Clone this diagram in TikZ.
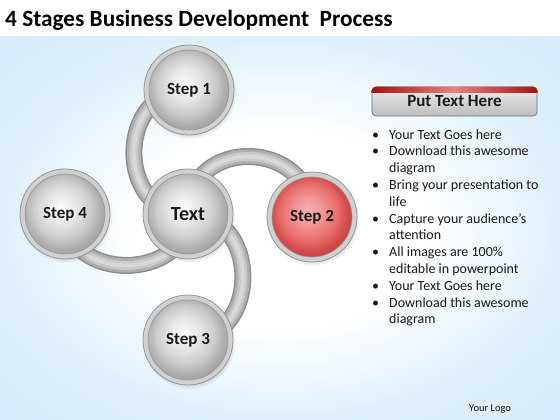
\documentclass[tikz,border=0pt]{standalone}
\usepackage{fontspec}
\setmainfont{Carlito}
\usetikzlibrary{shadows}
\definecolor{bgblue}{HTML}{DFF0FA}
\definecolor{bgblueB}{HTML}{D6EBF8}
\definecolor{tubeEdge}{HTML}{8E8E8E}
\definecolor{tubeMid}{HTML}{AFAFAF}
\definecolor{tubeLight}{HTML}{C8C8C8}
\definecolor{tubeHi}{HTML}{D8D8D8}
\definecolor{ringFill}{HTML}{D0D0D0}
\definecolor{ringEdge}{HTML}{969696}
\definecolor{textDark}{HTML}{1A1A1A}
\definecolor{hdrRed}{HTML}{9E1414}
\definecolor{hdrPink}{HTML}{EE7E7E}
\definecolor{rA}{HTML}{F7B2B2}
\definecolor{rB}{HTML}{F29494}
\definecolor{rC}{HTML}{E86C6C}
\definecolor{rD}{HTML}{D44C4C}
\definecolor{rE}{HTML}{C64040}
\pgfdeclareradialshading{graysphere}{\pgfpoint{-2.5bp}{4bp}}{%
  color(0bp)=(white!98!black); color(8bp)=(white!91!black);
  color(16bp)=(white!80!black); color(21bp)=(white!69!black);
  color(25bp)=(white!63!black); color(50bp)=(white!63!black)}
\pgfdeclareradialshading{redsphere}{\pgfpoint{-2.5bp}{4bp}}{%
  color(0bp)=(rA); color(8bp)=(rB);
  color(16bp)=(rC); color(21bp)=(rD);
  color(25bp)=(rE); color(50bp)=(rE)}
\pgfdeclareradialshading{bgshade}{\pgfpoint{0bp}{0bp}}{%
  color(0bp)=(white); color(13bp)=(white);
  color(25bp)=(bgblue); color(36bp)=(bgblueB); color(50bp)=(bgblueB)}
\pgfdeclarelayer{bg}
\pgfdeclarelayer{tubes}
\pgfsetlayers{bg,tubes,main}
\tikzset{
  stepball/.style={circle, minimum size=90pt, inner sep=0pt, draw=ringEdge,
    line width=0.8pt, fill=ringFill, text=textDark,
    font=\bfseries\fontsize{17}{17}\selectfont,
    circular drop shadow={shadow xshift=1pt, shadow yshift=-2.5pt, opacity=0.35, shadow scale=1.03},
    path picture={\shade[shading=#1] (path picture bounding box.center) circle (40pt);
      \draw[ringEdge, line width=0.6pt] (path picture bounding box.center) circle (40pt);}},
  tube/.style={draw=tubeEdge, line width=17pt,
    postaction={draw=tubeMid, line width=14pt},
    postaction={draw=tubeLight, line width=9pt},
    postaction={draw=tubeHi, line width=4pt}},
  hdrbox/.style={rectangle, rounded corners=4pt, minimum width=165pt, minimum height=29pt,
    top color=white!93!black, bottom color=white!74!black, draw=white!42!black,
    line width=0.6pt, text=textDark, font=\bfseries\fontsize{17}{17}\selectfont},
  plain/.style={inner sep=0pt, text=textDark}
}
\begin{document}
\begin{tikzpicture}[x=1pt,y=1pt]
\useasboundingbox (0,0) rectangle (560,420);
\begin{pgfonlayer}{bg}
  \fill[white] (0,0) rectangle (560,420);
  \shade[shading=bgshade] (0,0) rectangle (560,383);
\end{pgfonlayer}
% circles
\node[stepball=graysphere] (s1) at (189,330) {Step 1};
\node[stepball=graysphere, font=\bfseries\fontsize{20}{20}\selectfont] (txt) at (188,206) {Text};
\node[stepball=redsphere] (s2) at (312,203) {Step 2};
\node[stepball=graysphere] (s3) at (188,80) {Step 3};
\node[stepball=graysphere] (s4) at (65,206) {Step 4};
% tubes
\begin{pgfonlayer}{tubes}
  \draw[tube] (s1.center) to[out=180,in=180,looseness=1.5] (txt.center);
  \draw[tube] (txt.center) to[out=90,in=90,looseness=1.62] (s2.center);
  \draw[tube] (txt.center) to[out=0,in=0,looseness=1.49] (s3.center);
  \draw[tube] (s4.center) to[out=-90,in=-90,looseness=1.43] (txt.center);
\end{pgfonlayer}
% title
\node[plain, anchor=base west, text=black, font=\bfseries\fontsize{23.3}{23.3}\selectfont] (title) at (5,393)
  {4 Stages Business Development\ \ Process};
% header box
\node[hdrbox] (hdr) at (454.5,318.5) {Put Text Here};
\begin{scope}
  \clip[rounded corners=4pt] (hdr.south west) rectangle (hdr.north east);
  \shade[left color=hdrRed, right color=hdrRed, middle color=hdrPink]
    ([yshift=-5.5pt]hdr.north west) rectangle (hdr.north east);
\end{scope}
% bullets
\node[plain, anchor=north west, font=\fontsize{14}{16.8}\selectfont] (bul) at (370,292.8) {%
  \begin{tabular}{@{}l@{}}
  \makebox[19pt][l]{\hspace{2pt}•}Your Text Goes here\\
  \makebox[19pt][l]{\hspace{2pt}•}Download this awesome\\
  \makebox[19pt][l]{}diagram\\
  \makebox[19pt][l]{\hspace{2pt}•}Bring your presentation to\\
  \makebox[19pt][l]{}life\\
  \makebox[19pt][l]{\hspace{2pt}•}Capture your audience’s\\
  \makebox[19pt][l]{}attention\\
  \makebox[19pt][l]{\hspace{2pt}•}All images are 100\%\\
  \makebox[19pt][l]{}editable in powerpoint\\
  \makebox[19pt][l]{\hspace{2pt}•}Your Text Goes here\\
  \makebox[19pt][l]{\hspace{2pt}•}Download this awesome\\
  \makebox[19pt][l]{}diagram
  \end{tabular}};
% logo
\node[plain, anchor=base west, font=\fontsize{10.5}{10.5}\selectfont] (logo) at (469,8) {Your Logo};
\end{tikzpicture}
\end{document}
